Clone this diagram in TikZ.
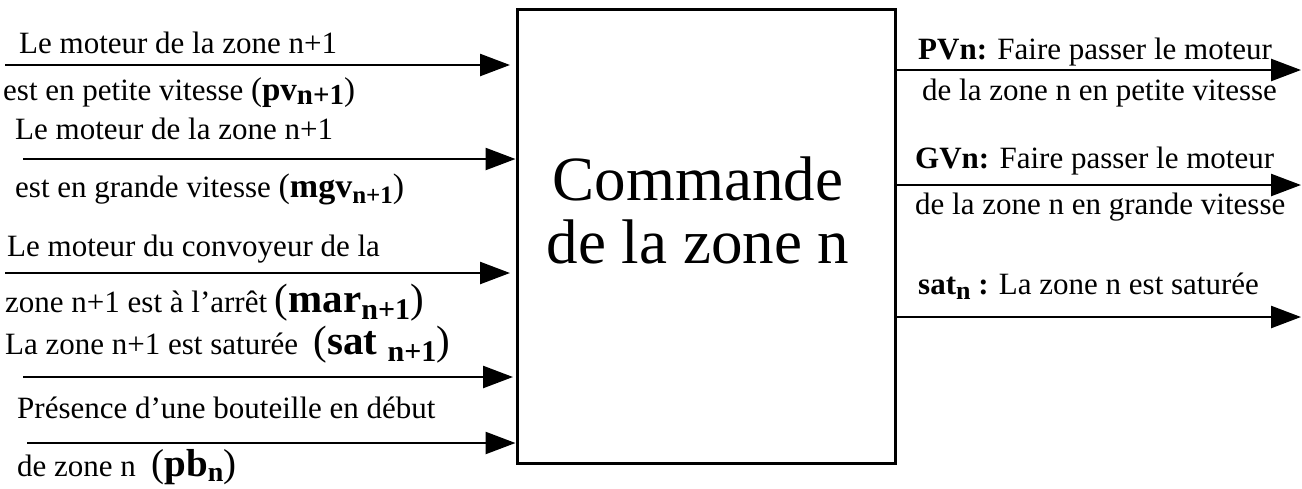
\documentclass[tikz,border=0pt]{standalone}
\usepackage{fontspec}
\setmainfont{Liberation Serif}
\usetikzlibrary{arrows.meta}
% bold subscript: [lowering]{size}{text}
\newcommand\bsub[3][-4pt]{\raisebox{#1}{\fontsize{#2}{#2}\selectfont\bfseries #3}}
\newcommand\sized[2]{{\fontsize{#1}{#1}\selectfont #2}}
\begin{document}
\begin{tikzpicture}[x=1pt,y=-1pt,
  txt/.style={anchor=base west, inner sep=0pt, font=\fontsize{31}{31}\selectfont},
  rtxt/.style={anchor=base west, inner sep=0pt, font=\fontsize{31}{31}\selectfont},
  arr/.style={line width=2.5pt, -{Triangle[length=30pt,width=22pt]}},
  blockbox/.style={draw, line width=3pt, minimum width=378pt, minimum height=454pt, inner sep=0pt}]
\useasboundingbox (0,0) rectangle (1302,488);
\node[blockbox] (box) at (706,236) {};
\node[align=center, inner sep=0pt, font=\fontsize{63}{63}\selectfont] (title) at (698,210) {Commande\\de la zone n};
% inputs
\coordinate (i1) at (5,65);
\coordinate (i2) at (23,159);
\coordinate (i3) at (5,273);
\coordinate (i4) at (23,377);
\coordinate (i5) at (27,443);
\draw[arr, shorten >=5.5pt] (i1) -- (i1 -| box.west);
\draw[arr] (i2) -- (i2 -| box.west);
\draw[arr, shorten >=5.5pt] (i3) -- (i3 -| box.west);
\draw[arr, shorten >=2.5pt] (i4) -- (i4 -| box.west);
\draw[arr] (i5) -- (i5 -| box.west);
% outputs
\coordinate (o1) at (1301,70);
\coordinate (o2) at (1301,185);
\coordinate (o3) at (1301,317);
\draw[arr] (o1 -| box.east) -- (o1);
\draw[arr] (o2 -| box.east) -- (o2);
\draw[arr] (o3 -| box.east) -- (o3);
% left texts
\node[txt] (t1) at (19,53) {Le moteur de la zone n+1};
\node[txt] (t2) at (3,100) {est en petite vitesse \sized{33}{(\textbf{pv}\bsub[-4pt]{29}{n+1})}};
\node[txt] (t3) at (15,139) {Le moteur de la zone n+1};
\node[txt] (t4) at (15,197) {est en grande vitesse \sized{34}{(\textbf{mgv}\bsub[-6pt]{25}{n+1})}};
\node[txt] (t5) at (7,256) {Le moteur du convoyeur de la};
\node[txt] (t6) at (5,312) {zone n+1 est à l’arrêt \sized{41}{(\textbf{mar}\bsub[-7pt]{30}{n+1})}};
\node[txt] (t7) at (5,354) {La zone n+1 est saturée \ \sized{41}{(\textbf{sat} \bsub[-7pt]{30}{n+1})}};
\node[txt] (t8) at (17,418) {Présence d’une bouteille en début};
\node[txt] (t9) at (17,476) {de zone n \ \sized{39}{(\textbf{pb}\bsub[-5pt]{28}{n})}};
% right texts
\node[rtxt] (r1) at (918,59) {\textbf{PVn:} Faire passer le moteur};
\node[rtxt] (r2) at (922,100) {de la zone n en petite vitesse};
\node[rtxt] (r3) at (915,168) {\textbf{GVn:} Faire passer le moteur};
\node[rtxt] (r4) at (915,214) {de la zone n en grande vitesse};
\node[rtxt] (r5) at (918,294) {\textbf{sat\bsub[-5pt]{26}{n} :} La zone n est saturée};
\end{tikzpicture}
\end{document}
